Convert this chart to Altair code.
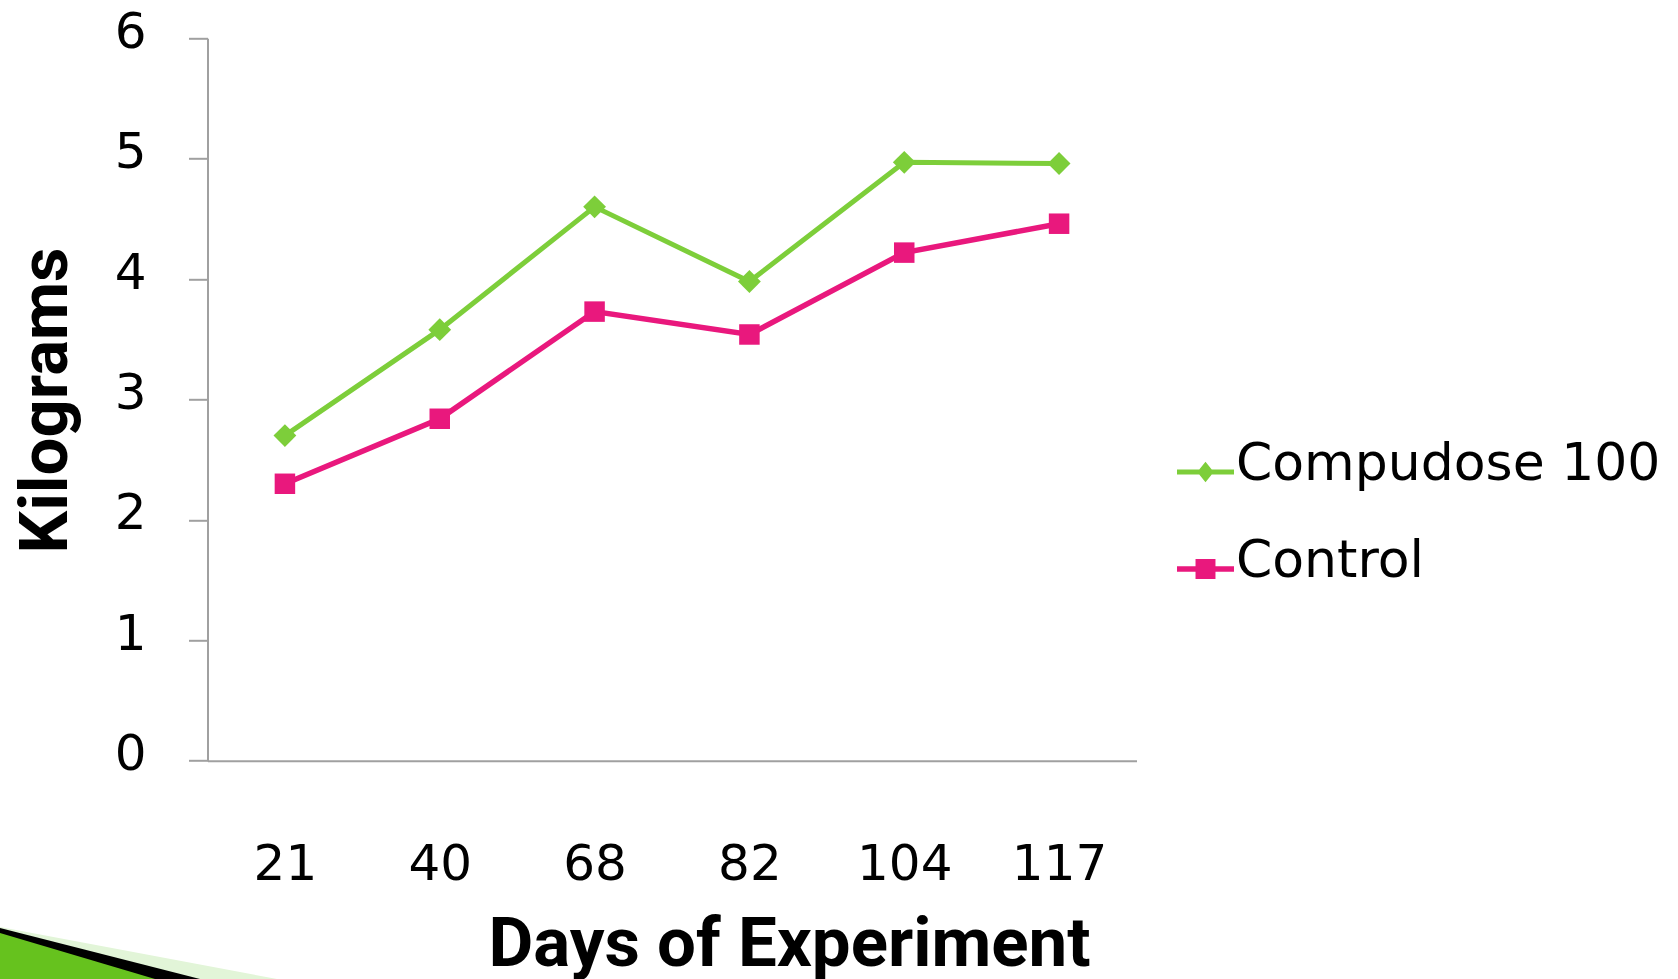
import altair as alt
import pandas as pd

# ---- data ----
days = ["21", "40", "68", "82", "104", "117"]
compudose = [2.70, 3.58, 4.60, 3.98, 4.97, 4.96]
control = [2.30, 2.84, 3.73, 3.54, 4.22, 4.46]
series_names = ["Compudose 100", "Control"]
series_colors = ["#7DCE3A", "#E9187D"]
y_ticks = [0, 1, 2, 3, 4, 5, 6]

rows = []
for d, a, b in zip(days, compudose, control):
    rows.append({"day": d, "series": series_names[0], "kg": a})
    rows.append({"day": d, "series": series_names[1], "kg": b})
df = pd.DataFrame(rows)

# ---- layout ----
W, H = 929, 722.4
PL, PT = 207.5, 38.3
PR = 1678 - PL - W
PB = 979 - PT - H

TICK_FONT = "DejaVu Sans"
TITLE_FONT = "Roboto"
AXIS_GREY = "#A0A0A0"

x_enc = alt.X(
    "day:O",
    sort=days,
    scale=alt.Scale(type="point", padding=0.5, domain=days),
    axis=alt.Axis(
        title="Days of Experiment",
        labelAngle=0,
        ticks=False,
        tickSize=0,
        labelPadding=119,
        labelBaseline="alphabetic",
        labelFont=TICK_FONT,
        labelFontSize=50,
        labelColor="black",
        domainColor=AXIS_GREY,
        domainWidth=2,
        grid=False,
        titleFont=TITLE_FONT,
        titleFontWeight="bold",
        titleFontSize=69,
        titleColor="black",
        titleX=581.5,
        titleY=204.3,
        titleBaseline="alphabetic",
        titleAlign="center",
    ),
)
y_enc = alt.Y(
    "kg:Q",
    scale=alt.Scale(domain=[0, 6], nice=False, zero=True),
    axis=alt.Axis(
        values=y_ticks,
        title="Kilograms",
        tickSize=19,
        tickWidth=2,
        tickColor=AXIS_GREY,
        domainColor=AXIS_GREY,
        domainWidth=2,
        grid=False,
        labelPadding=42.5,
        labelBaseline="alphabetic",
        labelOffset=9,
        labelFont=TICK_FONT,
        labelFontSize=50,
        labelColor="black",
        titleFont=TITLE_FONT,
        titleFontWeight="bold",
        titleFontSize=67,
        titleColor="black",
        titleAngle=270,
        titleX=-141,
        titleY=361.7,
        titleBaseline="alphabetic",
        titleAlign="center",
    ),
)

color_scale = alt.Scale(domain=series_names, range=series_colors)

line_green = alt.Chart(df).transform_filter(
    alt.datum.series == series_names[0]
).mark_line(color=series_colors[0], strokeWidth=5).encode(x=x_enc, y=y_enc)

line_pink = alt.Chart(df).transform_filter(
    alt.datum.series == series_names[1]
).mark_line(color=series_colors[1], strokeWidth=5.5).encode(x=x_enc, y=y_enc)

diamonds = alt.Chart(df).transform_filter(
    alt.datum.series == series_names[0]
).mark_point(
    shape="diamond", size=520, filled=True, opacity=1, strokeWidth=0, color=series_colors[0]
).encode(x=x_enc, y=y_enc)

squares = alt.Chart(df).transform_filter(
    alt.datum.series == series_names[1]
).mark_point(
    shape="square", size=420, filled=True, opacity=1, strokeWidth=0, color=series_colors[1]
).encode(x=x_enc, y=y_enc)

# legend symbols: a short line with the marker in its middle (slightly below the label centre)
legend_paths = [
    "M-1,0.192H1V0.368H-1Z M0,-0.08L0.29,0.28L0,0.64L-0.29,0.28Z",
    "M-1,0.185H1V0.375H-1Z M-0.35,-0.07H0.35V0.63H-0.35Z",
]
legend_def = alt.Legend(
    title=None,
    orient="none",
    legendX=969.5,
    legendY=397.3,
    symbolSize=3249,
    symbolStrokeWidth=0,
    symbolOpacity=1,
    labelFont=TICK_FONT,
    labelFontSize=52,
    labelColor="black",
    labelOffset=2,
    labelLimit=1000,
    rowPadding=42,
    padding=0,
)
legend_layer = alt.Chart(df).transform_filter("datum.kg < 0").mark_point(
    filled=True, opacity=1, strokeWidth=0
).encode(
    x=x_enc,
    y=y_enc,
    color=alt.Color("series:N", scale=color_scale, legend=legend_def),
    shape=alt.Shape("series:N", scale=alt.Scale(domain=series_names, range=legend_paths), legend=legend_def),
)

# decorative slide corner (bottom-left)
deco_df = pd.DataFrame({
    "idx": [0, 1, 2],
    "path": [
        "M0,927L277,979L0,979Z",
        "M0,928L200,979L0,979Z",
        "M0,933L155,979L0,979Z",
    ],
    "col": ["#E2F5D8", "#000000", "#66C21E"],
})
deco = alt.Chart(deco_df).mark_point(filled=True, size=4, strokeWidth=0, opacity=1).encode(
    x=alt.value(-PL),
    y=alt.value(-PT),
    shape=alt.Shape("path:N", scale=None),
    fill=alt.Fill("col:N", scale=None),
    order=alt.Order("idx:Q"),
)

chart = alt.layer(deco, line_green, line_pink, diamonds, squares, legend_layer).properties(
    width=W,
    height=H,
    padding={"left": PL, "top": PT, "right": PR, "bottom": PB},
    autosize=alt.AutoSizeParams(type="none"),
    background="white",
).configure_view(stroke=None)

chart.save("out.html", embed_options={"renderer": "svg", "actions": False})
